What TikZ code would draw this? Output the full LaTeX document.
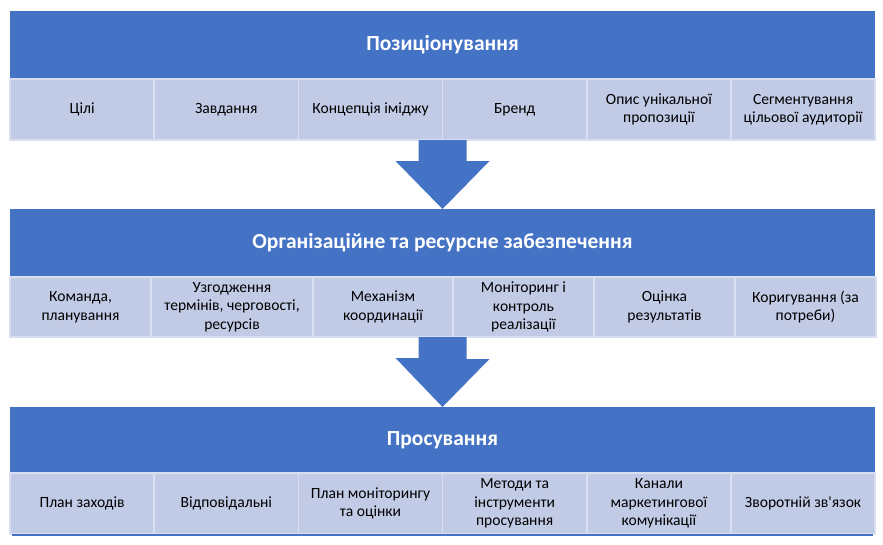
\documentclass[tikz,border=0pt]{standalone}
\usepackage{fontspec}
\newfontfamily\cellfont{Carlito}[Ligatures=TeXOff]
\usetikzlibrary{positioning}
\definecolor{hdrblue}{HTML}{4472C4}
\definecolor{cellfill}{HTML}{C2CBE6}
\definecolor{cellline}{HTML}{D9DEF0}
\tikzset{x=1pt,y=-1pt,
  header/.style={fill=hdrblue,text=white,font=\cellfont\fontsize{21.5}{25}\selectfont\bfseries,minimum width=865pt,minimum height=68pt,inner sep=0pt,outer sep=0pt},
  cell/.style={fill=cellfill,draw=cellline,line width=1.5pt,font=\cellfont\fontsize{15.6}{18.5}\selectfont,align=center,minimum height=61pt,minimum width=144.2pt,inner sep=2pt,outer sep=0pt},
  blockarrow/.style={fill=hdrblue}}

\begin{document}
\begin{tikzpicture}
              \useasboundingbox (0,0) rectangle (883,544);

              \node[header] (pos) at (442.5,45) {Позиціонування};
              \node[cell,anchor=north west] (pos1) at (pos.south west) {Цілі};
              \node[cell,right=0pt of pos1] (pos2) {Завдання};
              \node[cell,right=0pt of pos2] (pos3) {Концепція іміджу};
              \node[cell,right=0pt of pos3] (pos4) {Бренд};
              \node[cell,right=0pt of pos4] (pos5) {Опис унікальної\\пропозиції};
              \node[cell,right=0pt of pos5] (pos6) {Сегментування\\цільової аудиторії};

              \node[header] (org) at (442.5,243) {Організаційне та ресурсне забезпечення};
              \node[cell,minimum height=60pt,minimum width=141pt,anchor=north west] (org1) at (org.south west) {Команда,\\планування};
              \node[cell,minimum height=60pt,minimum width=162pt,right=0pt of org1] (org2) {Узгодження\\термінів, черговості,\\ресурсів};
              \node[cell,minimum height=60pt,minimum width=140pt,right=0pt of org2] (org3) {Механізм\\координації};
              \node[cell,minimum height=60pt,minimum width=141pt,right=0pt of org3] (org4) {Моніторинг і\\контроль\\реалізації};
              \node[cell,minimum height=60pt,minimum width=141pt,right=0pt of org4] (org5) {Оцінка\\результатів};
              \node[cell,minimum height=60pt,minimum width=141pt,right=0pt of org5] (org6) {Коригування (за\\потреби)};

              \node[header,minimum height=66pt] (pro) at (442.5,440) {Просування};
              \node[cell,anchor=north west] (pro1) at (pro.south west) {План заходів};
              \node[cell,right=0pt of pro1] (pro2) {Відповідальні};
              \node[cell,right=0pt of pro2] (pro3) {План моніторингу\\та оцінки};
              \node[cell,right=0pt of pro3] (pro4) {Методи та\\інструменти\\просування};
              \node[cell,right=0pt of pro4] (pro5) {Канали\\маркетингової\\комунікації};
              \node[cell,right=0pt of pro5] (pro6) {Зворотній зв'язок};
              \draw[hdrblue,line width=1.5pt] ([shift={(2,1)}]pro1.south west) -- ([shift={(-2,1)}]pro6.south east);

              \coordinate (a1) at (pos |- pos1.south);
              \coordinate (a2) at (org |- org1.south);
              \fill[blockarrow] (org.north) -- ++(47,-48) -- ++(-23,0) |- ([xshift=24pt]a1)
                -- ([xshift=-24pt]a1) -- ++(0,21) -- ++(-23,0) -- cycle;
              \fill[blockarrow] (pro.north) -- ++(47,-48) -- ++(-23,0) |- ([xshift=24pt]a2)
                -- ([xshift=-24pt]a2) -- ++(0,21) -- ++(-23,0) -- cycle;
\end{tikzpicture}
\end{document}
